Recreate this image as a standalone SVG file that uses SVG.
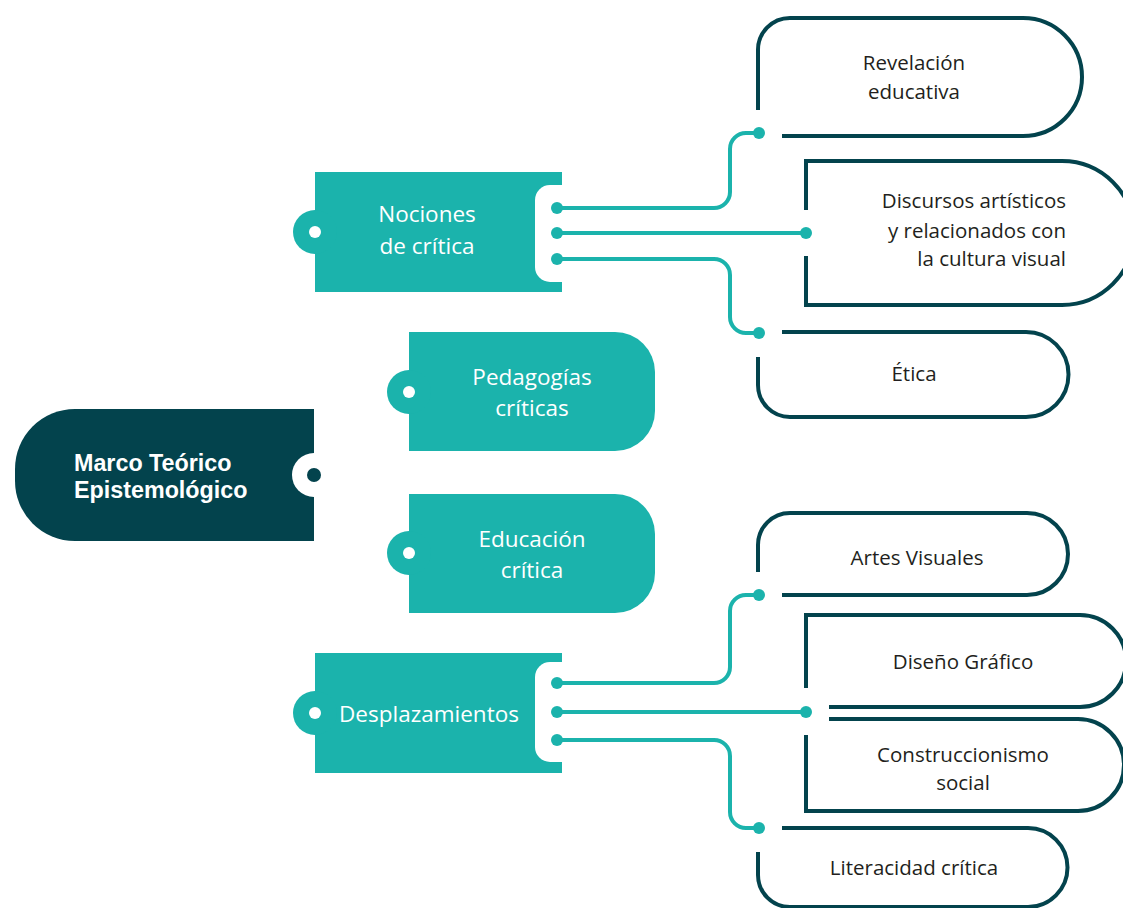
<svg xmlns="http://www.w3.org/2000/svg" width="1123" height="908" viewBox="0 0 1123 908">
  <style>
    .dark { fill: #03434d; }
    .teal { fill: #1bb3ac; }
    .hole { fill: #ffffff; }
    .outline { fill: none; stroke: #03434d; stroke-width: 4; }
    .wire { fill: none; stroke: #1bb3ac; stroke-width: 4; }
    .lbl { font-family: "Open Sans", "Noto Sans", sans-serif; font-size: 20.5px; fill: #231f20; text-anchor: middle; }
    .lbl-end { text-anchor: end; }
    .wlbl { font-family: "Open Sans", "Noto Sans", sans-serif; font-size: 22.5px; fill: #ffffff; text-anchor: middle; }
    .main { font-family: "Liberation Sans", Arial, sans-serif; font-weight: bold; font-size: 23.3px; fill: #ffffff; }
  </style>
  <rect width="1123" height="908" fill="#ffffff"/>

  <!-- root node -->
  <g id="marco">
    <path class="dark" d="M314 409 H75 A60 60 0 0 0 15 469 V481 A60 60 0 0 0 75 541 H314 Z"/>
    <circle class="hole" cx="314" cy="475" r="22"/>
    <circle class="dark" cx="314" cy="475" r="7"/>
    <text class="main" x="74" y="471">Marco Teórico</text>
    <text class="main" x="74" y="498">Epistemológico</text>
  </g>

  <!-- second level -->
  <g id="nociones">
    <rect class="teal" x="315" y="172" width="247" height="120"/>
    <circle class="teal" cx="315" cy="232" r="22"/>
    <circle class="hole" cx="315" cy="232" r="6"/>
    <path class="hole" d="M563 185 H550 A15 15 0 0 0 535 200 V267 A15 15 0 0 0 550 282 H563 Z"/>
    <text class="wlbl" x="427" y="222">Nociones</text>
    <text class="wlbl" x="427" y="254">de crítica</text>
  </g>

  <g id="pedagogias">
    <path class="teal" d="M409 332 H615 A40 40 0 0 1 655 372 V411 A40 40 0 0 1 615 451 H409 Z"/>
    <circle class="teal" cx="409" cy="392" r="22"/>
    <circle class="hole" cx="409" cy="392" r="6"/>
    <text class="wlbl" x="532" y="385">Pedagogías</text>
    <text class="wlbl" x="532" y="416">críticas</text>
  </g>

  <g id="educacion">
    <path class="teal" d="M409 494 H615 A40 40 0 0 1 655 534 V573 A40 40 0 0 1 615 613 H409 Z"/>
    <circle class="teal" cx="409" cy="553" r="22"/>
    <circle class="hole" cx="409" cy="553" r="6"/>
    <text class="wlbl" x="532" y="547">Educación</text>
    <text class="wlbl" x="532" y="578">crítica</text>
  </g>

  <g id="desplazamientos">
    <rect class="teal" x="315" y="653" width="247" height="120"/>
    <circle class="teal" cx="315" cy="713" r="22"/>
    <circle class="hole" cx="315" cy="713" r="6"/>
    <path class="hole" d="M563 662 H550 A15 15 0 0 0 535 677 V747 A15 15 0 0 0 550 762 H563 Z"/>
    <text class="wlbl" x="429" y="722">Desplazamientos</text>
  </g>

  <!-- connectors -->
  <g id="connectors">
    <path class="wire" d="M557 208 H714 A16 16 0 0 0 730 192 V149 A16 16 0 0 1 746 133 H758"/>
    <path class="wire" d="M557 233 H806"/>
    <path class="wire" d="M557 259 H714 A16 16 0 0 1 730 275 V317 A16 16 0 0 0 746 333 H758"/>
    <path class="wire" d="M557 683 H714 A16 16 0 0 0 730 667 V611 A16 16 0 0 1 746 595 H758"/>
    <path class="wire" d="M557 712 H806"/>
    <path class="wire" d="M557 740 H714 A16 16 0 0 1 730 756 V812 A16 16 0 0 0 746 828 H758"/>
    <g class="teal">
      <circle cx="557" cy="208" r="6"/>
      <circle cx="557" cy="233" r="6"/>
      <circle cx="557" cy="259" r="6"/>
      <circle cx="759" cy="133" r="6"/>
      <circle cx="806" cy="233" r="6"/>
      <circle cx="759" cy="333" r="6"/>
      <circle cx="557" cy="683" r="6"/>
      <circle cx="557" cy="712" r="6"/>
      <circle cx="557" cy="740" r="6"/>
      <circle cx="759" cy="595" r="6"/>
      <circle cx="806" cy="712" r="6"/>
      <circle cx="759" cy="828" r="6"/>
    </g>
  </g>

  <!-- leaf nodes -->
  <g id="revelacion">
    <path class="outline" d="M758 110 V51 A32 32 0 0 1 790 18 H1023 A59 59 0 0 1 1023 136 H782"/>
    <text class="lbl" x="914" y="70">Revelación</text>
    <text class="lbl" x="914" y="99">educativa</text>
  </g>

  <g id="discursos">
    <path class="outline" d="M806 210 V161 H1062 A72 72 0 0 1 1062 305 H806 V256"/>
    <text class="lbl lbl-end" x="1066" y="208">Discursos artísticos</text>
    <text class="lbl lbl-end" x="1066" y="238">y relacionados con</text>
    <text class="lbl lbl-end" x="1066" y="266">la cultura visual</text>
  </g>

  <g id="etica">
    <path class="outline" d="M782 332 H1026 A42.5 42.5 0 0 1 1026 417 H790 A32 32 0 0 1 758 385 V357"/>
    <text class="lbl" x="914" y="381">Ética</text>
  </g>

  <g id="artes">
    <path class="outline" d="M758 572 V545 A32 32 0 0 1 790 513 H1027 A41 41 0 0 1 1027 595 H782"/>
    <text class="lbl" x="917" y="565">Artes Visuales</text>
  </g>

  <g id="diseno">
    <path class="outline" d="M806 688 V615 H1080 A46 46 0 0 1 1080 707 H829"/>
    <text class="lbl" x="963" y="669">Diseño Gráfico</text>
  </g>

  <g id="construccionismo">
    <path class="outline" d="M829 719 H1078 A46 46 0 0 1 1078 811 H806 V735"/>
    <text class="lbl" x="963" y="762">Construccionismo</text>
    <text class="lbl" x="963" y="790">social</text>
  </g>

  <g id="literacidad">
    <path class="outline" d="M782 828 H1028 A39.5 39.5 0 0 1 1028 907 H790 A32 32 0 0 1 758 875 V852"/>
    <text class="lbl" x="914" y="875">Literacidad crítica</text>
  </g>
</svg>
